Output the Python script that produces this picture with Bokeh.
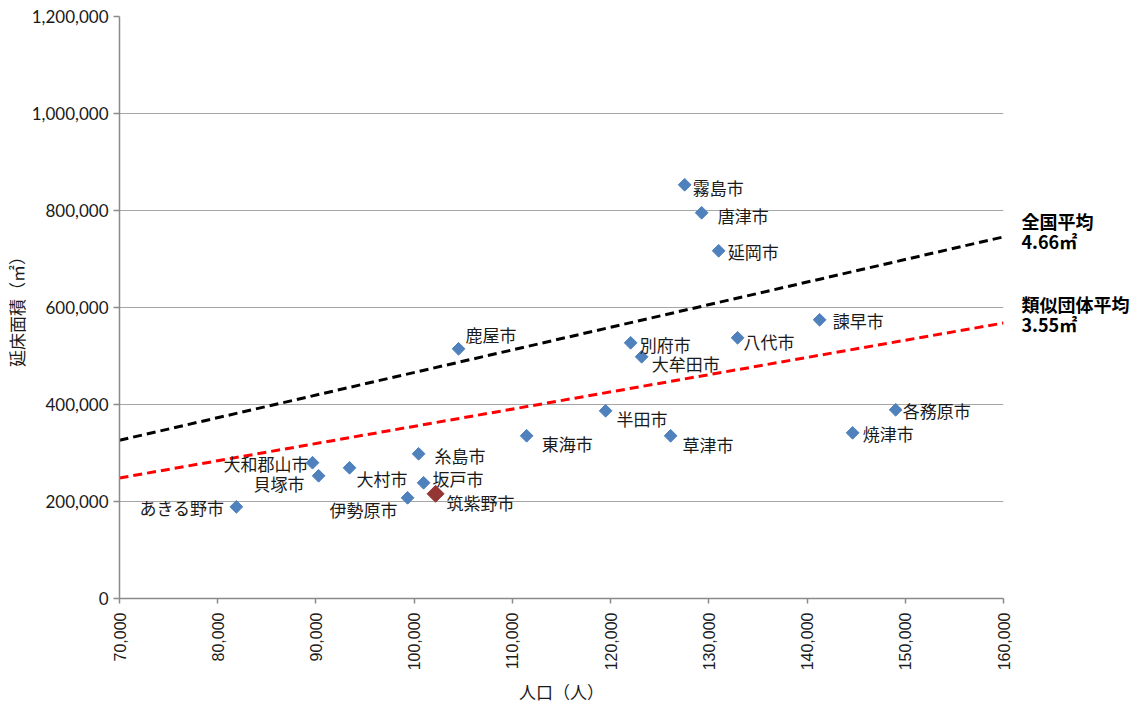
import math
from bokeh.plotting import figure
from bokeh.models import (ColumnDataSource, Range1d, SingleIntervalTicker, FixedTicker,
                          NumeralTickFormatter, LinearAxis)
from bokeh.core.properties import value
from bokeh.embed import file_html
from bokeh.resources import INLINE

# ---- data ----
cities = ["あきる野市", "大和郡山市", "貝塚市", "大村市", "伊勢原市", "糸島市", "坂戸市",
          "筑紫野市", "鹿屋市", "東海市", "半田市", "別府市", "大牟田市", "草津市",
          "霧島市", "唐津市", "延岡市", "八代市", "諫早市", "焼津市", "各務原市"]
population = [81900, 89650, 90270, 93420, 99330, 100450, 100960,
              102180, 104520, 111450, 119490, 122040, 123160, 126110,
              127540, 129270, 131000, 132930, 141280, 144640, 149020]
floor_area = [189000, 280000, 253000, 269500, 207600, 298400, 238600,
              215900, 514800, 335500, 387000, 527200, 498400, 335500,
              853000, 795300, 716900, 537500, 574600, 341600, 389100]
highlight_city = "筑紫野市"

line_x = [70000, 160000]
national_avg_y = [326200, 745600]   # 4.66 m2 per person
similar_avg_y = [248500, 568000]    # 3.55 m2 per person
national_label = ["全国平均", "4.66㎡"]
similar_label = ["類似団体平均", "3.55㎡"]

x_min, x_max, x_step = 70000, 160000, 10000
y_min, y_max, y_step = 0, 1200000, 200000
x_title = "人口（人）"
y_title = "延床面積（㎡）"

# ---- label styling (screen pixel offsets, alignment) ----
label_style = {
    "あきる野市": ("right", -12, 1), "大和郡山市": ("right", -4, 1),
    "貝塚市": ("right", -14, 8), "伊勢原市": ("right", -10, 12),
    "糸島市": ("left", 16, 2), "坂戸市": ("left", 9, -4), "筑紫野市": ("left", 11, 9),
    "大村市": ("left", 7, 11), "鹿屋市": ("left", 7, -14), "東海市": ("left", 15, 8),
    "半田市": ("left", 11, 8), "草津市": ("left", 12, 9), "別府市": ("left", 9, 2),
    "大牟田市": ("left", 10, 7), "八代市": ("left", 6, 4), "霧島市": ("left", 8, 3),
    "唐津市": ("left", 16, 3), "延岡市": ("left", 9, 1), "諫早市": ("left", 13, 1),
    "各務原市": ("left", 7, 1), "焼津市": ("left", 10, 1),
}

CJK = "Noto Sans CJK JP"
FRAME_W, FRAME_H = 884, 582

p = figure(frame_width=FRAME_W, frame_height=FRAME_H,
           min_border_left=110, min_border_right=129,
           min_border_top=16, min_border_bottom=96,
           x_range=Range1d(x_min, x_max), y_range=Range1d(y_min, y_max),
           output_backend="svg", toolbar_location=None, tools="")
p.outline_line_color = None
p.background_fill_color = "white"
p.border_fill_color = "white"

# axes
p.xaxis.ticker = SingleIntervalTicker(interval=x_step)
p.yaxis.ticker = SingleIntervalTicker(interval=y_step)
p.xaxis.formatter = NumeralTickFormatter(format="0,0")
p.yaxis.formatter = NumeralTickFormatter(format="0,0")
for ax in (p.xaxis, p.yaxis):
    ax.axis_line_color = "#8a8a8a"
    ax.axis_line_width = 1.5
    ax.major_tick_line_color = "#8a8a8a"
    ax.major_tick_line_width = 1.5
    ax.minor_tick_line_color = None
    ax.major_tick_in = 0
    ax.major_label_text_color = "#1a1a1a"
    ax.axis_label_text_font = CJK
    ax.axis_label_text_font_style = "normal"
    ax.axis_label_text_color = "#1a1a1a"
p.xaxis.major_tick_out = 5
p.yaxis.major_tick_out = 6
p.xaxis.major_label_orientation = math.pi / 2
p.xaxis.major_label_text_font = "Liberation Sans"
p.xaxis.major_label_text_font_size = "16px"
p.xaxis.major_label_standoff = 9
p.xaxis.axis_label = x_title
p.xaxis.axis_label_text_font_size = "17px"
p.xaxis.axis_label_standoff = 6
p.yaxis.major_label_text_font = "Lato"
p.yaxis.major_label_text_font_size = "17px"
p.yaxis.major_label_standoff = 5
p.yaxis.axis_label = y_title
p.yaxis.axis_label_text_font_size = "17px"
p.yaxis.axis_label_standoff = 0

p.xgrid.grid_line_color = None
p.ygrid.grid_line_color = "#a6a6a6"
p.ygrid.grid_line_width = 1.2

# average lines
p.line(line_x, national_avg_y, line_color="black", line_width=3, line_dash="9 5")
p.line(line_x, similar_avg_y, line_color="#ff0000", line_width=3, line_dash="9 5")

# points
normal = [i for i, c in enumerate(cities) if c != highlight_city]
hl = [i for i, c in enumerate(cities) if c == highlight_city]
src_n = ColumnDataSource(dict(x=[population[i] for i in normal], y=[floor_area[i] for i in normal]))
src_h = ColumnDataSource(dict(x=[population[i] for i in hl], y=[floor_area[i] for i in hl]))
p.scatter("x", "y", source=src_n, marker="square", size=9, angle=math.pi / 4,
          fill_color="#4f81bd", line_color="#4f81bd")
p.scatter("x", "y", source=src_h, marker="square", size=12, angle=math.pi / 4,
          fill_color="#943634", line_color="#943634")

# city labels
for align in ("left", "right"):
    idx = [i for i, c in enumerate(cities) if label_style[c][0] == align]
    src = ColumnDataSource(dict(
        x=[population[i] for i in idx], y=[floor_area[i] for i in idx],
        t=[cities[i] for i in idx],
        dx=[label_style[cities[i]][1] for i in idx],
        dy=[label_style[cities[i]][2] for i in idx]))
    p.text("x", "y", text="t", source=src, x_offset="dx", y_offset="dy",
           text_align=align, text_baseline="middle",
           text_font=value(CJK), text_font_size="17px", text_color="#1a1a1a")

# right-side annotations for the average lines, as labels of an unlined right axis
units_per_px = (y_max - y_min) / FRAME_H
ann_ticks, ann_text = [], {}
for lines, y_end, offs in ((national_label, national_avg_y[-1], (16, -4)),
                           (similar_label, similar_avg_y[-1], (19, -1))):
    for txt, off in zip(lines, offs):
        t = int(round(y_end + off * units_per_px))
        ann_ticks.append(t)
        ann_text[t] = txt
right_ax = LinearAxis(ticker=FixedTicker(ticks=ann_ticks), major_label_overrides=ann_text,
                      axis_line_color=None, major_tick_line_color=None,
                      minor_tick_line_color=None, major_tick_in=0, major_tick_out=0,
                      major_label_standoff=18, major_label_text_font=CJK,
                      major_label_text_font_size="18px", major_label_text_font_style="bold",
                      major_label_text_color="black")
p.add_layout(right_ax, "right")

open("out.html", "w").write(file_html(p, INLINE))
